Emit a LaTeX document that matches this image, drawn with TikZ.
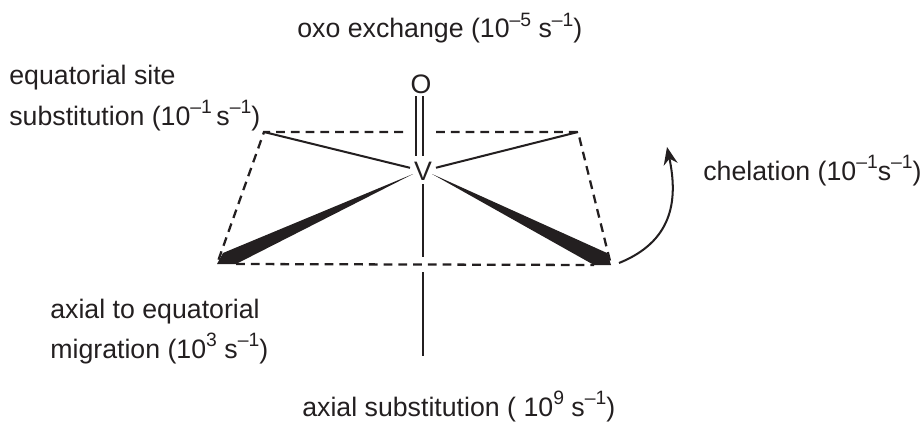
\documentclass[tikz,border=0pt]{standalone}
\usepackage{fontspec}
\setmainfont{Liberation Sans}
\usetikzlibrary{arrows.meta, calc}
\definecolor{inkblack}{HTML}{231F20}
\newcommand{\pw}[1]{\raisebox{0.42em}{\fontsize{11}{13}\selectfont #1}}
\tikzset{
    bond/.style={inkblack, line width=1.15pt},
    edgeline/.style={inkblack, line width=1.3pt, dash pattern=on 5pt off 3.4pt},
    label/.style={anchor=base west, inner sep=0pt, text=inkblack, font=\fontsize{15.2}{18}\selectfont},
}
\begin{document}
\begin{tikzpicture}
            \useasboundingbox (0,0) rectangle (18.48,8.42);

            \node[circle, inner sep=0pt, minimum size=0.52cm, text=inkblack, font=\fontsize{15.2}{18}\selectfont] (V) at (8.46,5.0) {V};
            \node[inner sep=0pt, minimum size=0.4cm, text=inkblack, font=\fontsize{15.2}{18}\selectfont] (O) at (8.42,6.74) {O};

            \coordinate (TL) at (5.28,5.78);
            \coordinate (TR) at (11.56,5.78);
            \coordinate (FL) at (4.34,3.14);
            \coordinate (FLb) at (4.72,3.14);
            \coordinate (FLt) at (4.46,3.36);
            \coordinate (FR) at (12.22,3.12);
            \coordinate (FRb) at (11.88,3.12);
            \coordinate (FRt) at (12.14,3.36);
            \coordinate (WL) at (8.26,4.94);
            \coordinate (WR) at (8.64,4.94);
            \coordinate (Ob) at (8.39,6.5);
            \coordinate (Vt) at (8.39,5.3);

            %bonds
            \draw[bond, double=white, double distance=3pt] (Ob) -- (Vt);
            \draw[bond] (TL) -- (V);
            \draw[bond] (TR) -- (V);
            \fill[inkblack] (WL) -- (FLt) -- (FL) -- (FLb) -- cycle;
            \fill[inkblack] (WR) -- (FRt) -- (FR) -- (FRb) -- cycle;

            \coordinate (Ax1) at (8.46,3.28);
            \coordinate (Ax2) at (8.46,2.98);
            \coordinate (Ax3) at (8.46,1.30);
            \draw[bond] (V) -- (Ax1);
            \draw[bond] (Ax2) -- (Ax3);

            %square
            \coordinate (T1) at (8.06,5.78);
            \coordinate (T2) at (8.72,5.78);
            \draw[edgeline] (T1) -- (TL) -- (FL);
            \draw[edgeline] (T2) -- (TR) -- (FR);
            \draw[edgeline] (FLb) -- (FRb);

            %chelation arrow
            \coordinate (C1) at (12.38,3.16);
            \coordinate (C2) at (13.34,5.48);
            \draw[bond, -{Stealth[length=10pt, width=8pt]}] (C1) to[out=22, in=-78, looseness=1.15] (C2);

            %labels
            \node[label] (l1) at (5.94,7.66) {oxo exchange (10\pw{–5} s\pw{–1})};
            \node[label] (l2) at (0.18,6.74) {equatorial site};
            \node[label] (l3) at (0.18,5.92) {substitution (10\pw{–1}\,s\pw{–1})};
            \node[label] (l4) at (14.06,4.82) {chelation (10\pw{–1}s\pw{–1})};
            \node[label] (l5) at (1.0,2.06) {axial to equatorial};
            \node[label] (l6) at (1.0,1.26) {migration (10\pw{3} s\pw{–1})};
            \node[label] (l7) at (6.04,0.10) {axial substitution ( 10\pw{9} s\pw{–1})};
\end{tikzpicture}
\end{document}
